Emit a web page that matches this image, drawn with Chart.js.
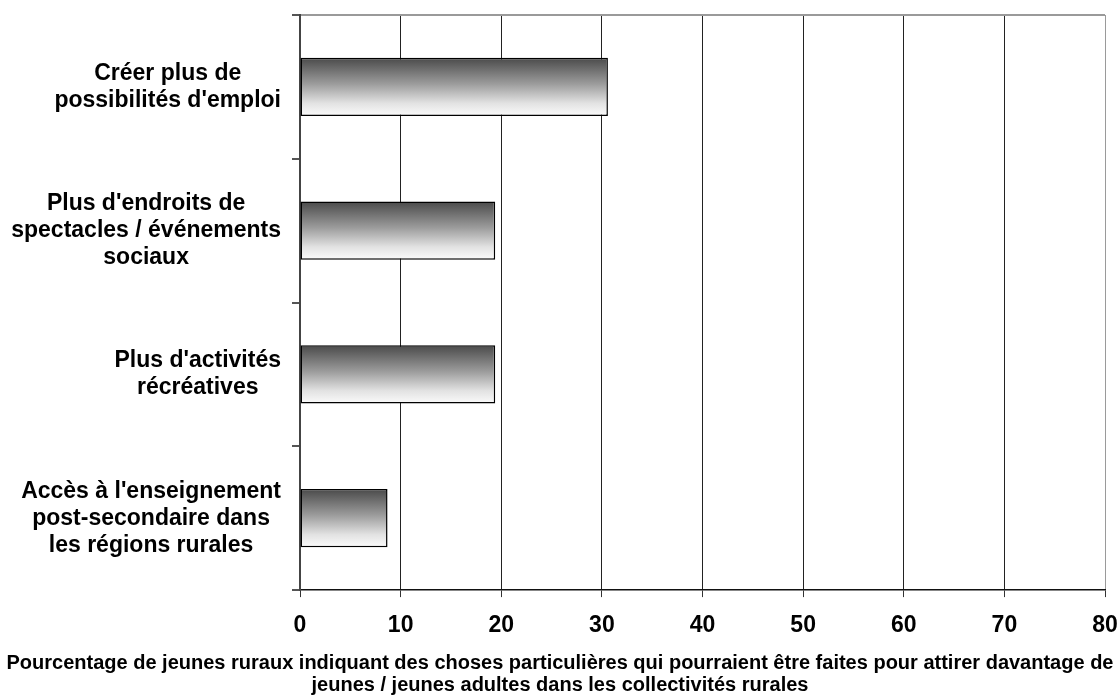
<!DOCTYPE html>
<html>
<head>
<meta charset="utf-8">
<script src="https://cdn.jsdelivr.net/npm/chart.js@4"></script>
<style>
  html, body { margin: 0; padding: 0; background: #fff; }
  #wrap { width: 1120px; height: 696px; }
</style>
</head>
<body>
<div id="wrap"><canvas id="grafico"></canvas></div>
<script>
// Datos
const categorias = [
    ["Créer plus de", "possibilités d'emploi"],
    ["Plus d'endroits de", "spectacles / événements", "sociaux"],
    ["Plus d'activités", "récréatives"],
    ["Accès à l'enseignement", "post-secondaire dans", "les régions rurales"]
];
const valores = [30.6, 19.4, 19.4, 8.7];
const ticksX = [0, 10, 20, 30, 40, 50, 60, 70, 80];
const tituloX = [
    "Pourcentage de jeunes ruraux indiquant des choses particulières qui pourraient être faites pour attirer davantage de",
    "jeunes / jeunes adultes dans les collectivités rurales"
];

const FUENTE = "'Liberation Sans', Arial, sans-serif";
const PORC_BARRA = 0.405;

// degradado vertical de cada barra (oscuro arriba, blanco abajo)
function degradado(ctx) {
    const chart = ctx.chart;
    const ys = chart.scales.y;
    if (!chart.chartArea || !ys) return '#999';
    const c = ys.getPixelForValue(ctx.dataIndex);
    const h = ys.height / categorias.length * PORC_BARRA;
    const g = chart.ctx.createLinearGradient(0, c - h / 2, 0, c + h / 2);
    g.addColorStop(0, '#4a4a4a');
    g.addColorStop(0.45, '#9c9c9c');
    g.addColorStop(0.78, '#e2e2e2');
    g.addColorStop(1, '#fbfbfb');
    return g;
}

// etiquetas del eje Y: cada bloque alineado a la derecha, líneas centradas
const etiquetasY = {
    id: 'etiquetasY',
    afterDraw(chart) {
        const ys = chart.scales.y;
        const ctx = chart.ctx;
        ctx.save();
        ctx.font = 'bold 23px ' + FUENTE;
        ctx.fillStyle = '#000';
        ctx.textAlign = 'center';
        ctx.textBaseline = 'middle';
        categorias.forEach((lineas, i) => {
            const w = Math.max(...lineas.map(l => ctx.measureText(l).width));
            const cx = ys.right - 19 - w / 2;
            const cy = ys.getPixelForTick(i);
            lineas.forEach((l, j) => {
                ctx.fillText(l, cx, cy + (j - (lineas.length - 1) / 2) * 27);
            });
        });
        ctx.restore();
    }
};

function configuracion() {
    return {
        type: 'bar',
        data: {
            labels: categorias,
            datasets: [{
                data: valores,
                backgroundColor: degradado,
                borderColor: '#000',
                borderWidth: 1.5,
                borderSkipped: false,
                barPercentage: PORC_BARRA,
                categoryPercentage: 1
            }]
        },
        options: {
            indexAxis: 'y',
            responsive: true,
            maintainAspectRatio: false,
            animation: false,
            layout: { padding: { top: 15, right: 0, left: 0, bottom: 0 } },
            plugins: {
                legend: { display: false },
                tooltip: { enabled: false },
                title: {
                    display: true,
                    position: 'bottom',
                    text: tituloX,
                    color: '#000',
                    font: { family: FUENTE, size: 20, weight: 'bold', lineHeight: 1.08 },
                    padding: { top: 0, bottom: 0 }
                }
            },
            scales: {
                x: {
                    min: 0,
                    max: 80,
                    afterBuildTicks: (s) => { s.ticks = ticksX.map(v => ({ value: v })); },
                    afterFit: (s) => { s.height = 62.7; s.paddingLeft = 0; s.paddingRight = 15; },
                    grid: {
                        color: (c) => (c.tick && c.tick.value === 80) ? '#9a9a9a' : '#222',
                        tickColor: '#333',
                        tickLength: 7,
                        lineWidth: 1
                    },
                    border: { display: true, color: '#111', width: 1.5 },
                    ticks: {
                        color: '#000',
                        padding: 15,
                        font: { family: FUENTE, size: 23, weight: 'bold' }
                    }
                },
                y: {
                    afterFit: (s) => { s.width = 300; },
                    grid: {
                        offset: true,
                        drawOnChartArea: true,
                        color: (c) => (c.index === 0) ? '#9a9a9a' : 'rgba(0,0,0,0)',
                        tickColor: '#555',
                        tickLength: 8,
                        lineWidth: 2
                    },
                    border: { display: true, color: '#444', width: 2 },
                    ticks: { display: false }
                }
            }
        },
        plugins: [etiquetasY]
    };
}

document.addEventListener('DOMContentLoaded', () => {
    const canvas = document.getElementById('grafico');
    if (canvas) {
        new Chart(canvas, configuracion());
    } else {
        console.error('No se encontró el canvas');
    }
});
</script>
</body>
</html>
